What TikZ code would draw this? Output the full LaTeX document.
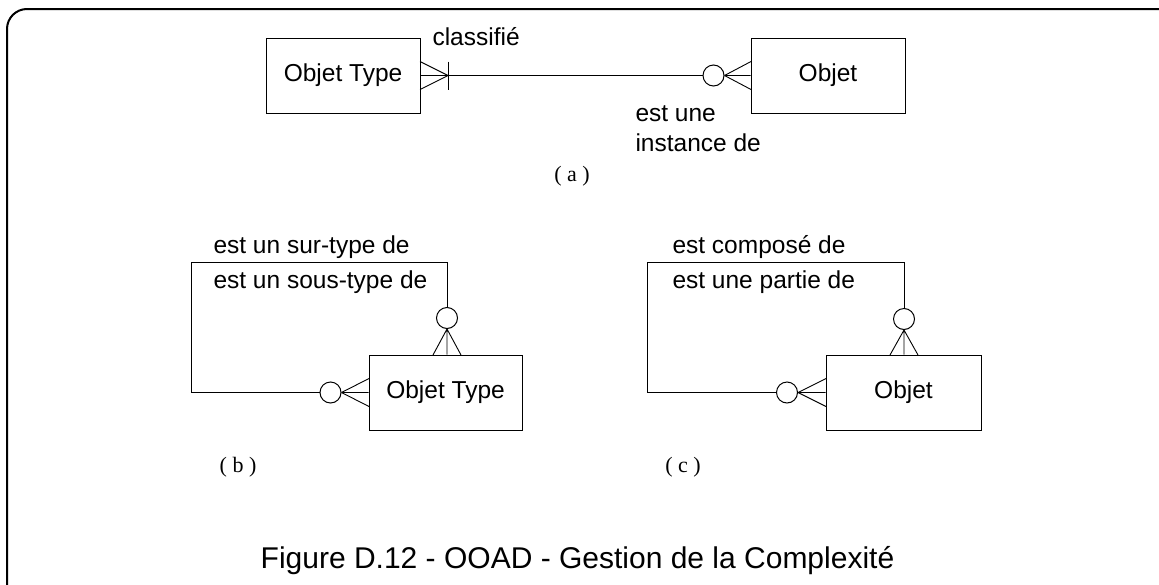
\documentclass[tikz,border=0pt]{standalone}
\usepackage{fontspec}
\setmainfont{Liberation Sans}
\newfontfamily\seriffont{Liberation Serif}
\begin{document}
\begin{tikzpicture}[x=1pt,y=-1pt,line width=1pt,
  entity/.style={draw,rectangle,minimum width=154pt,minimum height=75pt,inner sep=0pt,font=\fontsize{24.5}{28}\selectfont},
  opt/.style={draw,circle,minimum size=21pt,inner sep=0pt},
  lbl/.style={inner sep=0pt,font=\fontsize{24.5}{28}\selectfont},
  sub/.style={inner sep=0pt,font=\seriffont\fontsize{22}{26}\selectfont},
  foot/.style={line width=0.9pt}]
\useasboundingbox (0,0) rectangle (1159,584);
\begin{scope}
\clip (0,0) rectangle (1159,584);
\draw[line width=2pt,rounded corners=20pt] (7,9) rectangle (1185,615);
\end{scope}
% (a)
\node[entity] (ot) at (343,75.5) {Objet Type};
\node[entity] (ob) at (828,75.5) {Objet};
\node[opt] (c1) at (713.5,75.5) {};
\coordinate (ta) at (448,75.5);
\coordinate (tb1) at (448,61.5);
\coordinate (tb2) at (448,89.5);
\coordinate (fa1) at (420,61.5);
\coordinate (fa2) at (420,89.5);
\draw (ot.east) -- (c1.west);
\draw (tb1) -- (tb2);
\draw[foot] (ta) -- (fa1) (ta) -- (fa2);
\coordinate (fb1) at (751,61.5);
\coordinate (fb2) at (751,89.5);
\draw[foot] (c1.east) -- (fb1) (c1.east) -- (ob.west) (c1.east) -- (fb2);
\node[lbl,anchor=base west] (l1) at (432,45) {classifié};
\node[lbl,anchor=base west] (l2) at (635,121) {est une};
\node[lbl,anchor=base west] (l3) at (635,151) {instance de};
\node[sub,anchor=base] (sa) at (572,181) {( a )};
% (b)
\node[entity,minimum width=153pt] (bt) at (445.5,392.5) {Objet Type};
\node[opt] (b1) at (447,318) {};
\node[opt] (b2) at (330.5,392.5) {};
\coordinate (bl1) at (191,262);
\coordinate (bl2) at (447,262);
\coordinate (bl3) at (191,392.5);
\draw (b1.north) -- (bl2) -- (bl1) -- (bl3) -- (b2.west);
\coordinate (bf1) at (433,355);
\coordinate (bf2) at (461,355);
\draw[foot] (b1.south) -- (bf1) (b1.south) -- (bt.north -| b1) (b1.south) -- (bf2);
\coordinate (bf3) at (369,378.5);
\coordinate (bf4) at (369,406.5);
\draw[foot] (b2.east) -- (bf3) (b2.east) -- (bt.west) (b2.east) -- (bf4);
\node[lbl,anchor=base west] (l4) at (213,253) {est un sur-type de};
\node[lbl,anchor=base west] (l5) at (213,288) {est un sous-type de};
\node[sub,anchor=base] (sb) at (238,472) {( b )};
% (c)
\node[entity,minimum width=155pt] (co) at (903.5,392.5) {Objet};
\node[opt] (cc1) at (904,319) {};
\node[opt] (cc2) at (787,392.5) {};
\coordinate (cl1) at (647,262);
\coordinate (cl2) at (904,262);
\coordinate (cl3) at (647,392.5);
\draw (cc1.north) -- (cl2) -- (cl1) -- (cl3) -- (cc2.west);
\coordinate (cf1) at (890,355);
\coordinate (cf2) at (918,355);
\draw[foot] (cc1.south) -- (cf1) (cc1.south) -- (co.north -| cc1) (cc1.south) -- (cf2);
\coordinate (cf3) at (826,378.5);
\coordinate (cf4) at (826,406.5);
\draw[foot] (cc2.east) -- (cf3) (cc2.east) -- (co.west) (cc2.east) -- (cf4);
\node[lbl,anchor=base west] (l6) at (672,253) {est composé de};
\node[lbl,anchor=base west] (l7) at (672,288) {est une partie de};
\node[sub,anchor=base] (sc) at (683,472) {( c )};
% caption
\node[inner sep=0pt,anchor=base,font=\fontsize{30}{34}\selectfont] (cap) at (577.5,568) {Figure D.12 - OOAD - Gestion de la Complexité};
\end{tikzpicture}
\end{document}
